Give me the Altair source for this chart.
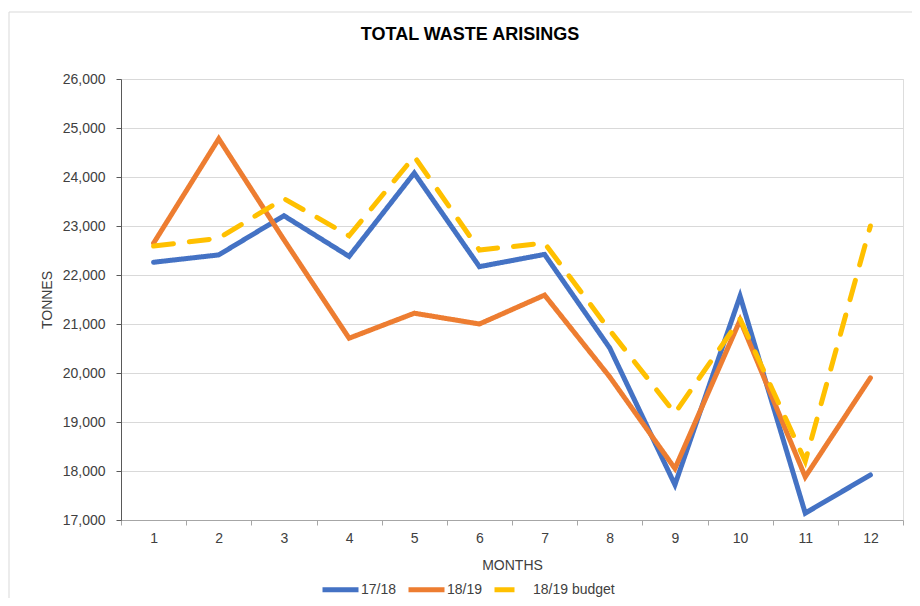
import altair as alt
import pandas as pd

# ---- data ----
months = list(range(1, 13))
series_names = ["17/18", "18/19", "18/19 budget"]
v_1718 = [22260, 22410, 23210, 22380, 24080, 22170, 22420, 20510, 17720, 21570, 17140, 17920]
v_1819 = [22650, 24780, 22720, 20710, 21220, 21000, 21590, 19920, 18050, 21080, 17880, 19900]
v_budget = [22590, 22750, 23560, 22800, 24420, 22510, 22650, 20870, 19180, 21100, 18200, 23000]
y_ticks = list(range(17000, 26001, 1000))
x_boundaries = [m - 0.5 for m in range(1, 14)]
title_text = ["TOTAL WASTE ARISINGS"]

colors = ["#4472C4", "#ED7D31", "#FFC000"]
dashes = [[1, 0], [1, 0], [20, 16]]

rows = []
for name, vals in zip(series_names, [v_1718, v_1819, v_budget]):
    for m, v in zip(months, vals):
        rows.append({"month": m, "tonnes": v, "series": name})
df = pd.DataFrame(rows)

FONT = "Liberation Sans"
TXT = "#404040"

PW, PH = 782, 441
band = PW / 12

frame = alt.Chart(pd.DataFrame({"k": [0]})).mark_rect(
    fillOpacity=0, stroke="#d9d9d9", strokeWidth=1
).encode(
    x=alt.value(-112), x2=alt.value(830), y=alt.value(-67), y2=alt.value(560)
)

title = alt.Chart(pd.DataFrame({"t": title_text})).mark_text(
    font=FONT, fontSize=18, fontWeight="bold", color="black",
    align="center", baseline="middle"
).encode(
    text="t:N", x=alt.value(349), y=alt.value(-44)
)

leg = dict(
    orient="none",
    legendX=199,
    legendY=490,
    direction="horizontal",
    title=None,
    symbolType="stroke",
    symbolSize=1296,
    symbolStrokeWidth=5,
    labelFont=FONT,
    labelFontSize=14,
    labelColor=TXT,
    labelOffset=0,
    columnPadding=1,
)

lines = alt.Chart(df).mark_line(strokeWidth=5, strokeCap="round").encode(
    x=alt.X(
        "month:Q",
        scale=alt.Scale(domain=[0.5, 12.5], nice=False, zero=False),
        axis=alt.Axis(
            values=x_boundaries,
            labelExpr="datum.value > 12 ? '' : format(datum.value + 0.5, 'd')",
            labelOffset=band / 2,
            labelFlush=False,
            labelOverlap=False,
            labelBound=False,
            grid=False,
            tickSize=5,
            tickColor="#a6a6a6",
            domainColor="#a6a6a6",
            labelFont=FONT,
            labelFontSize=14,
            labelColor=TXT,
            labelPadding=6,
            title="MONTHS",
            titleFont=FONT,
            titleFontSize=14,
            titleFontWeight="normal",
            titleColor=TXT,
            titleY=45,
            titleBaseline="middle",
        ),
    ),
    y=alt.Y(
        "tonnes:Q",
        scale=alt.Scale(domain=[17000, 26000], nice=False, zero=False),
        axis=alt.Axis(
            values=y_ticks,
            format=",d",
            grid=True,
            gridColor="#d9d9d9",
            gridWidth=1,
            tickSize=5,
            tickColor="#595959",
            domainColor="#595959",
            labelFont=FONT,
            labelFontSize=14,
            labelColor=TXT,
            labelPadding=11,
            title="TONNES",
            titleFont=FONT,
            titleFontSize=14,
            titleFontWeight="normal",
            titleColor=TXT,
            titleAngle=-90,
            titleX=-74,
            titleY=PH / 2,
            titleAlign="center",
            titleBaseline="middle",
        ),
    ),
    color=alt.Color(
        "series:N",
        scale=alt.Scale(domain=series_names, range=colors),
        legend=alt.Legend(**leg),
    ),
    strokeDash=alt.StrokeDash(
        "series:N",
        scale=alt.Scale(domain=series_names, range=dashes),
        legend=alt.Legend(**leg),
    ),
)

chart = alt.layer(frame, lines, title).properties(
    width=PW,
    height=PH,
    autosize=alt.AutoSizeParams(type="none"),
    padding={"left": 113, "top": 71, "right": 9, "bottom": 78},
).configure_view(stroke=None).configure(background="white")

chart.save("out.html", embed_options={"renderer": "svg", "actions": False})
